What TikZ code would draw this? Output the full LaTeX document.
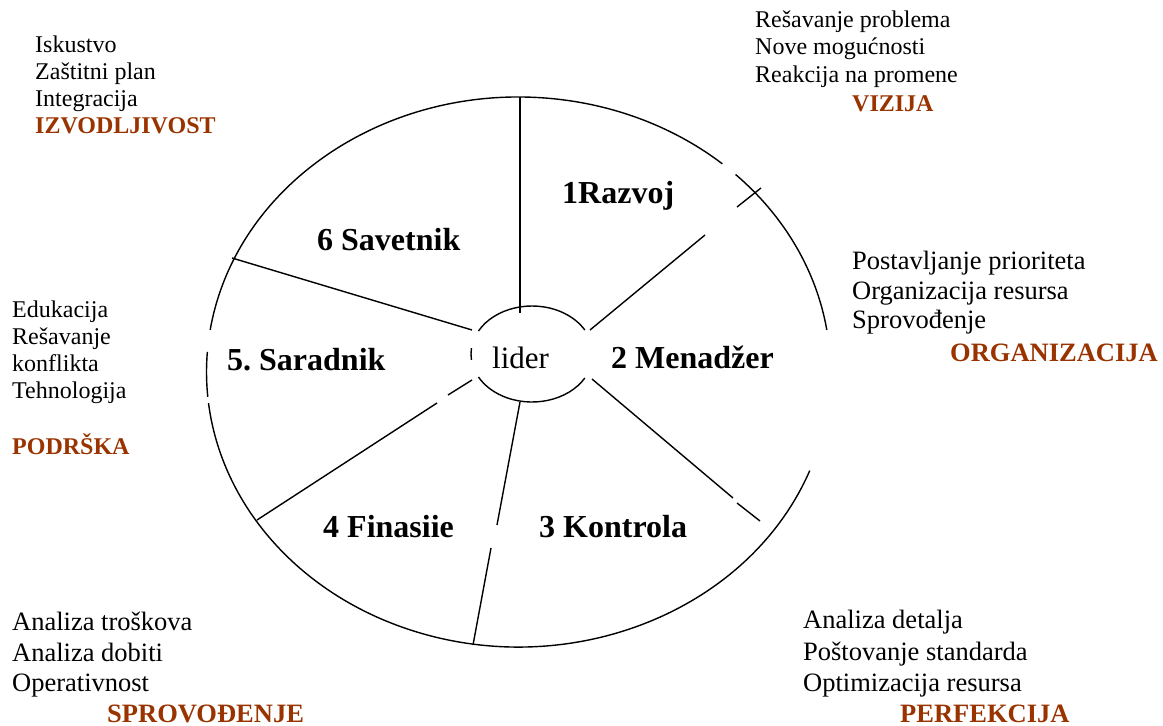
\documentclass[tikz,border=0pt]{standalone}
\usepackage{fontspec}
\setmainfont{Liberation Serif}
\definecolor{hd}{HTML}{993300}
\begin{document}
\frenchspacing
\begin{tikzpicture}[x=1pt,y=-1pt,
  ln/.style={line width=1.4pt},
  txt/.style={font=\fontsize{24}{28}\selectfont, anchor=base west, inner sep=0pt},
  hdg/.style={font=\fontsize{24}{28}\selectfont\bfseries, text=hd, anchor=base west, inner sep=0pt},
  txtb/.style={font=\fontsize{26.5}{30}\selectfont, anchor=base west, inner sep=0pt},
  hdgb/.style={font=\fontsize{26.5}{30}\selectfont\bfseries, text=hd, anchor=base west, inner sep=0pt},
  seg/.style={font=\fontsize{32}{38}\selectfont\bfseries, anchor=base west, inner sep=0pt},
  ctr/.style={font=\fontsize{31}{36}\selectfont, anchor=base west, inner sep=0pt}]
\useasboundingbox (0,0) rectangle (1163,726);

% outer ellipse (with the gaps of the original)
\coordinate (O) at (518.5,372);
\draw[ln] (O) ++(188.8:312 and 275) arc[start angle=188.8, end angle=310.8, x radius=312, y radius=275];
\draw[ln] (O) ++(314.1:312 and 275) arc[start angle=314.1, end angle=351.2, x radius=312, y radius=275];
\draw[ln] (O) ++(21:312 and 275) arc[start angle=21, end angle=173.5, x radius=312, y radius=275];
\draw[ln] (O) ++(174.8:312 and 275) arc[start angle=174.8, end angle=184.2, x radius=312, y radius=275];

% inner ellipse
\coordinate (I) at (532,354);
\draw[ln] (I) ++(30:61 and 48) arc[start angle=30, end angle=151.4, x radius=61, y radius=48];
\draw[ln] (I) ++(173:61 and 48) arc[start angle=173, end angle=187, x radius=61, y radius=48];
\draw[ln] (I) ++(208.6:61 and 48) arc[start angle=208.6, end angle=330, x radius=61, y radius=48];

% spoke end points
\coordinate (a1) at (520,313); \coordinate (b1) at (520,97);
\coordinate (a2) at (590,330); \coordinate (m2) at (705,235);
\coordinate (n2) at (737,207); \coordinate (b2) at (761,188);
\coordinate (a3) at (592,379); \coordinate (m3) at (733,498);
\coordinate (n3) at (737,503); \coordinate (b3) at (760,521);
\coordinate (a4) at (520,402); \coordinate (m4) at (497,525);
\coordinate (n4) at (491,548); \coordinate (b4) at (473,645);
\coordinate (a5) at (472,380); \coordinate (m5) at (448,395);
\coordinate (n5) at (437,403); \coordinate (b5) at (257,520);
\coordinate (a6) at (472,330); \coordinate (b6) at (232,258);

\draw[ln] (a1) -- (b1);
\draw[ln] (a2) -- (m2); \draw[ln] (n2) -- (b2);
\draw[ln] (a3) -- (m3); \draw[ln] (n3) -- (b3);
\draw[ln] (a4) -- (m4); \draw[ln] (n4) -- (b4);
\draw[ln] (a5) -- (m5); \draw[ln] (n5) -- (b5);
\draw[ln] (a6) -- (b6);

% segment labels
\node[ctr] (lider) at (492,368) {lider};
\node[seg] (s1) at (562,203) {1Razvoj};
\node[seg] (s2) at (611,368) {2 Menadžer};
\node[seg] (s3) at (539,537) {3 Kontrola};
\node[seg] (s4) at (323,537) {4 Finasiie};
\node[seg] (s5) at (227,370) {5.\ Saradnik};
\node[seg] (s6) at (317,250) {6 Savetnik};

% VIZIJA
\node[txt] (v1) at (755,27) {Rešavanje problema};
\node[txt] (v2) at (755,54) {Nove mogućnosti};
\node[txt] (v3) at (755,82) {Reakcija na promene};
\node[hdg] (vh) at (852,111) {VIZIJA};

% ORGANIZACIJA
\node[txtb] (o1) at (852,269) {Postavljanje prioriteta};
\node[txtb] (o2) at (852,299) {Organizacija resursa};
\node[txtb] (o3) at (852,328) {Sprovođenje};
\node[hdgb] (oh) at (950,361) {ORGANIZACIJA};

% IZVODLJIVOST
\node[txt] (i1) at (35,52) {Iskustvo};
\node[txt] (i2) at (35,79) {Zaštitni plan};
\node[txt] (i3) at (35,106) {Integracija};
\node[hdg] (ih) at (35,133) {IZVODLJIVOST};

% PODRSKA
\node[txt] (p1) at (12,317) {Edukacija};
\node[txt] (p2) at (12,344) {Rešavanje};
\node[txt] (p3) at (12,371) {konflikta};
\node[txt] (p4) at (12,398) {Tehnologija};
\node[hdg] (ph) at (12,454) {PODRŠKA};

% SPROVODJENJE
\node[txtb] (r1) at (12,630) {Analiza troškova};
\node[txtb] (r2) at (12,661) {Analiza dobiti};
\node[txtb] (r3) at (12,691) {Operativnost};
\node[hdgb] (rh) at (107,722) {SPROVOĐENJE};

% PERFEKCIJA
\node[txtb] (f1) at (803,628) {Analiza detalja};
\node[txtb] (f2) at (803,660) {Poštovanje standarda};
\node[txtb] (f3) at (803,691) {Optimizacija resursa};
\node[hdgb] (fh) at (900,722) {PERFEKCIJA};
\end{tikzpicture}
\end{document}
